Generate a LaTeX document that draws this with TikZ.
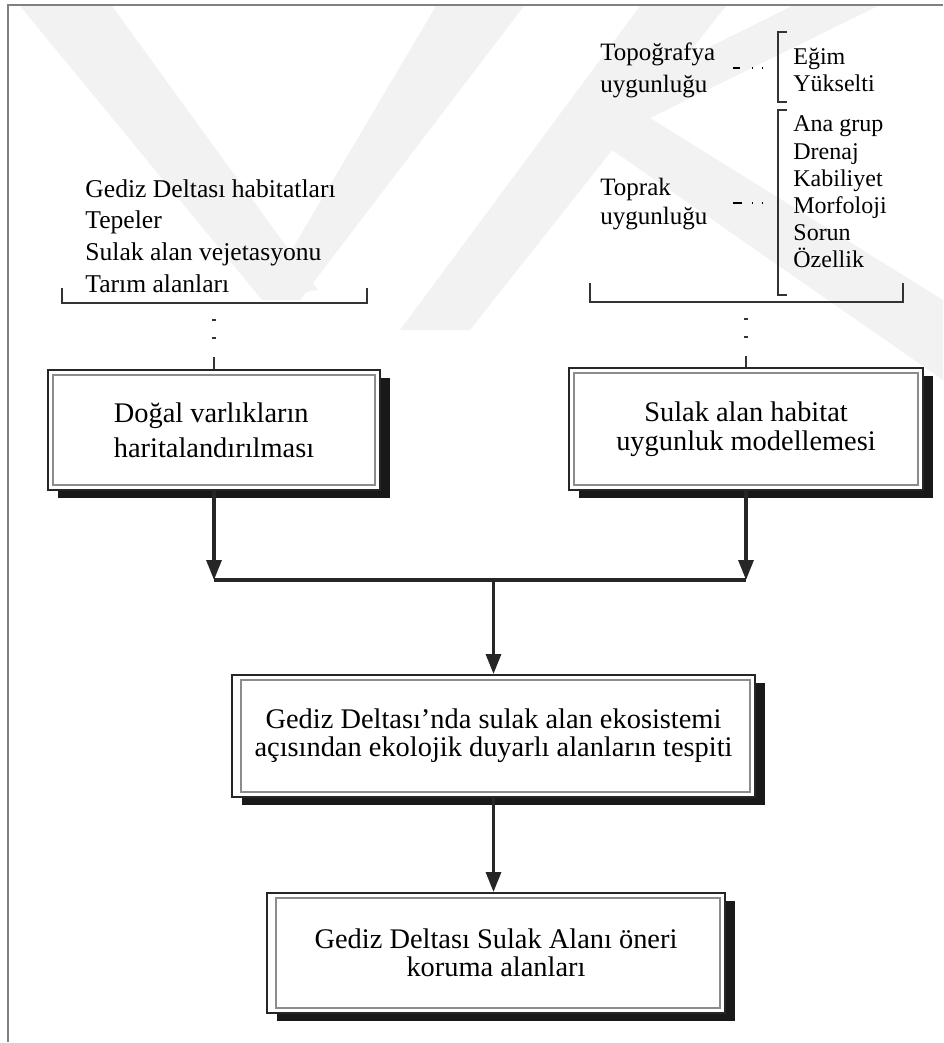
\documentclass[tikz,border=0pt]{standalone}
\usepackage{fontspec}
\setmainfont{Liberation Serif}
\usetikzlibrary{arrows.meta,shadows,positioning}

\tikzset{
  mainbox/.style={draw=black!85, line width=1pt, fill=white, align=center,
    drop shadow={shadow xshift=5pt, shadow yshift=-4pt, fill=black!90, opacity=1}},
  innerframe/.style={draw=black!45, line width=0.8pt},
  flow/.style={-{Triangle[length=10pt,width=7.5pt]}, line width=1.6pt, draw=black!85},
  bracket/.style={line width=1pt, draw=black!80},
  listtext/.style={align=left, inner sep=0pt, anchor=west},
  wmark/.style={fill=black!5}
}

\begin{document}
\begin{tikzpicture}[x=0.5pt, y=-0.5pt]
        \useasboundingbox (0,0) rectangle (943,1043);
        % faint watermark
        \fill[wmark] (20,6) -- (112,6) -- (318,290) -- (262,300) -- cycle;
        \fill[wmark] (436,6) -- (524,6) -- (300,300) -- (262,300) -- cycle;
        \fill[wmark] (640,6) -- (726,6) -- (470,330) -- (400,330) -- cycle;
        \fill[wmark] (792,6) -- (878,6) -- (650,118) -- (566,118) -- cycle;
        \fill[wmark] (566,118) -- (650,118) -- (943,300) -- (943,380) -- cycle;
        % page frame
        \draw[black!50, line width=0.8pt] (943,5) -- (8,5) -- (8,1042);

        % inputs
        \node[listtext, font=\fontsize{12.8}{15.9}\selectfont] (habitats) at (85,236) {Gediz Deltası habitatları\\Tepeler\\Sulak alan vejetasyonu\\Tarım alanları};
        \node[listtext, font=\fontsize{12.5}{16}\selectfont] (topo) at (600,70) {Topoğrafya\\uygunluğu};
        \node[listtext, font=\fontsize{12}{13.5}\selectfont] (topoitems) at (793,70) {Eğim\\Yükselti};
        \node[listtext, font=\fontsize{12.5}{14.5}\selectfont] (soil) at (600,204) {Toprak\\uygunluğu};
        \node[listtext, font=\fontsize{12}{13.6}\selectfont] (soilitems) at (793,192) {Ana grup\\Drenaj\\Kabiliyet\\Morfoloji\\Sorun\\Özellik};

        % brackets
        \draw[bracket] (787,32) -- (778,32) -- (778,102) -- (787,102);
        \draw[bracket] (787,110) -- (778,110) -- (778,295) -- (787,295);
        \draw[bracket] (62,288) |- (367,303) -- (367,288);
        \draw[bracket] (590,283) |- (903,302) -- (903,283);
        \draw[line width=0.8pt, dash pattern=on 3.5pt off 6pt on 0.5pt off 4.5pt on 0.5pt off 30pt] (733,68) -- (770,68);
        \draw[line width=0.8pt, dash pattern=on 4.5pt off 5pt on 0.5pt off 4.5pt on 0.5pt off 30pt] (733,203) -- (770,203);

        % process boxes
        \node[mainbox, align=left, minimum width=166pt, minimum height=60pt, font=\fontsize{14.2}{17.5}\selectfont] (mapping) at (214,430) {Doğal varlıkların\\haritalandırılması};
        \node[mainbox, minimum width=177pt, minimum height=61pt, font=\fontsize{14.2}{14.5}\selectfont] (model) at (746,429) {Sulak alan habitat\\uygunluk modellemesi};
        \node[mainbox, minimum width=261.5pt, minimum height=61pt, font=\fontsize{14.2}{13.8}\selectfont] (sensitive) at (493.5,736) {Gediz Deltası’nda sulak alan ekosistemi\\açısından ekolojik duyarlı alanların tespiti};
        \node[mainbox, minimum width=229pt, minimum height=60pt, font=\fontsize{14.2}{14}\selectfont] (protect) at (496,953) {Gediz Deltası Sulak Alanı öneri\\koruma alanları};

        \draw[innerframe] ([shift={(3pt,-3pt)}]mapping.north west) rectangle ([shift={(-3pt,3pt)}]mapping.south east);
        \draw[innerframe] ([shift={(3pt,-3pt)}]model.north west) rectangle ([shift={(-3pt,3pt)}]model.south east);
        \draw[innerframe] ([shift={(5pt,-3pt)}]sensitive.north west) rectangle ([shift={(-3pt,3pt)}]sensitive.south east);
        \draw[innerframe] ([shift={(5pt,-3pt)}]protect.north west) rectangle ([shift={(-3pt,3pt)}]protect.south east);

        % broken links from brackets to boxes
        \coordinate (lbr) at (214,303);
        \coordinate (rbr) at (746,302);
        \draw[bracket] ([shift={(-2,17)}]lbr) -- ++(4,0);
        \draw[bracket] ([shift={(-2,35)}]lbr) -- ++(4,0);
        \draw[bracket] ([yshift=-27pt]lbr) -- (mapping.north);
        \draw[bracket] ([shift={(-2,17)}]rbr) -- ++(4,0);
        \draw[bracket] ([shift={(-2,35)}]rbr) -- ++(4,0);
        \draw[bracket] ([yshift=-27pt]rbr) -- (model.north);

        % flow
        \coordinate (jleft) at (214,580);
        \coordinate (jright) at (746,580);
        \coordinate (jmid) at (sensitive.north |- jleft);
        \draw[flow] (mapping.south) -- (jleft);
        \draw[flow] (model.south) -- (jright);
        \draw[line width=1.6pt, black!85] (jleft) -- (jright);
        \draw[flow] (jmid) -- (sensitive.north);
        \draw[flow] (sensitive.south) -- (sensitive.south |- protect.north);
    \end{tikzpicture}
\end{document}
